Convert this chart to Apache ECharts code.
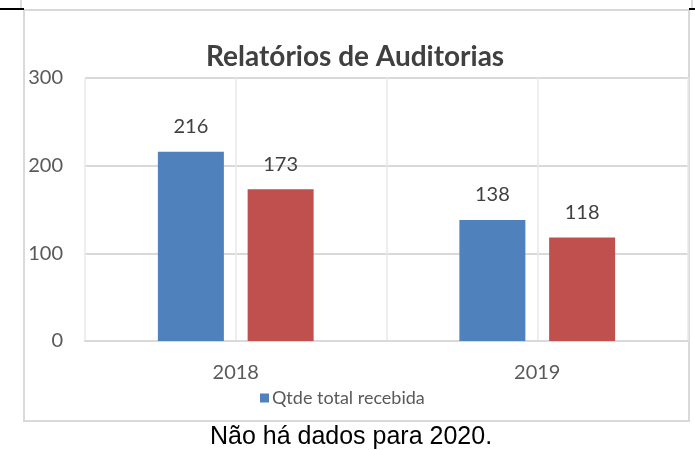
<!DOCTYPE html>
<html>
<head>
<meta charset="utf-8">
<script src="https://cdn.jsdelivr.net/npm/echarts@6/dist/echarts.min.js"></script>
<style>
    html, body { margin: 0; padding: 0; background: #fff; }
    #chart { width: 695px; height: 450px; }
</style>
</head>
<body>
<div id="chart"></div>
<script>
    // dados
    const anos = ['2018', '2019'];
    const recebida = [216, 138];
    const segunda = [173, 118];
    const yTicks = [0, 100, 300];
    const faixas = ['', '', '', ''];   // só para as linhas verticais

    const FONTE = 'Lato';
    const chart = echarts.init(document.getElementById('chart'));

    chart.setOption({
        animation: false,
        backgroundColor: '#fff',
        title: {
            text: 'Relatórios de Auditorias',
            left: 201,
            top: 38,
            textStyle: { fontFamily: FONTE, fontWeight: 'bold', fontSize: 28, color: '#404040' }
        },
        legend: {
            data: ['Qtde total recebida'],
            left: 255,
            top: 384,
            icon: 'rect',
            itemWidth: 9,
            itemHeight: 9,
            itemGap: 5,
            selectedMode: false,
            textStyle: { fontFamily: FONTE, fontSize: 18, color: '#595959', padding: [0, 0, 0, -2] }
        },
        grid: { left: 85, right: 7, top: 78, bottom: 109 },
        xAxis: [{
            type: 'category',
            data: anos,
            axisLine: { lineStyle: { color: '#d9d9d9', width: 2 } },
            axisTick: { show: false },
            axisLabel: { fontFamily: FONTE, fontSize: 20, color: '#595959', margin: 22 },
            splitLine: { show: false }
        }, {
            type: 'category',
            data: faixas,
            position: 'bottom',
            axisLine: { show: false },
            axisTick: { show: false },
            axisLabel: { show: false },
            splitLine: { show: true, lineStyle: { color: '#e8e8e8', width: 1.5 } }
        }],
        yAxis: {
            type: 'value',
            min: yTicks[0],
            max: yTicks[yTicks.length - 1],
            interval: yTicks[1] - yTicks[0],
            axisLine: { show: false },
            axisTick: { show: false },
            axisLabel: { fontFamily: FONTE, fontSize: 20, color: '#595959', margin: 22 },
            splitLine: { lineStyle: { color: '#d9d9d9', width: 2 } }
        },
        series: [{
            name: 'Qtde total recebida',
            type: 'bar',
            data: recebida,
            barWidth: 66,
            barGap: '36%',
            itemStyle: { color: '#4f81bd' },
            label: { show: true, position: 'top', distance: 15, fontFamily: FONTE, fontSize: 20, color: '#404040' }
        }, {
            name: 'Qtde 2',
            type: 'bar',
            data: segunda,
            barWidth: 66,
            itemStyle: { color: '#c0504d' },
            label: { show: true, position: 'top', distance: 15, fontFamily: FONTE, fontSize: 20, color: '#404040' }
        }],
        graphic: [
            { type: 'rect', shape: { x: 24, y: 10, width: 665, height: 411 }, style: { fill: 'none', stroke: '#d9d9d9', lineWidth: 2 }, z: -1 },
            { type: 'line', shape: { x1: 0, y1: 9, x2: 24, y2: 9 }, style: { stroke: '#000', lineWidth: 2 } },
            { type: 'line', shape: { x1: 689, y1: 9, x2: 695, y2: 9 }, style: { stroke: '#000', lineWidth: 2 } },
            { type: 'line', shape: { x1: 21, y1: 0, x2: 21, y2: 8 }, style: { stroke: '#bbb', lineWidth: 1 } },
            { type: 'line', shape: { x1: 692, y1: 0, x2: 692, y2: 8 }, style: { stroke: '#bbb', lineWidth: 1 } },
            {
                type: 'text', x: 351, y: 450,
                style: {
                    text: 'Não há dados para 2020.',
                    fontFamily: 'Liberation Sans', fontSize: 25, fill: '#000',
                    textAlign: 'center', textVerticalAlign: 'bottom'
                }
            }
        ]
    });
</script>
</body>
</html>
